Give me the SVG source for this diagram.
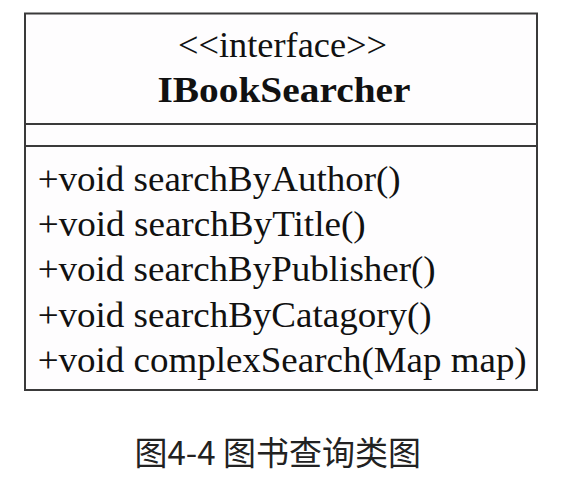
<svg xmlns="http://www.w3.org/2000/svg" width="564" height="498" viewBox="0 0 564 498">
  <style>
    .box { fill: #fefdfe; stroke: #3a3a3a; stroke-width: 2; }
    .div { stroke: #3a3a3a; stroke-width: 2; }
    .t { font-family: "Liberation Serif", "Times New Roman", serif; font-size: 35px; fill: #111; }
    .b { font-weight: bold; }
    .cap { font-family: "Noto Sans CJK SC", "Noto Sans", sans-serif; font-size: 33px; fill: #222; }
  </style>
  <rect width="564" height="498" fill="#ffffff"/>
  <g id="IBookSearcher">
    <rect class="box" x="25" y="13.5" width="512" height="376.5"/>
    <line class="div" x1="25" y1="124" x2="537" y2="124"/>
    <line class="div" x1="25" y1="146" x2="537" y2="146"/>
    <text class="t" x="178" y="57.3" textLength="209" lengthAdjust="spacingAndGlyphs">&lt;&lt;interface&gt;&gt;</text>
    <text class="t b" x="157.5" y="102.3" textLength="253" lengthAdjust="spacingAndGlyphs">IBookSearcher</text>
    <text class="t" x="37.7" y="190.7" textLength="363" lengthAdjust="spacingAndGlyphs">+void searchByAuthor()</text>
    <text class="t" x="37.7" y="236" textLength="328" lengthAdjust="spacingAndGlyphs">+void searchByTitle()</text>
    <text class="t" x="37.7" y="281.2" textLength="398" lengthAdjust="spacingAndGlyphs">+void searchByPublisher()</text>
    <text class="t" x="37.7" y="326.5" textLength="394" lengthAdjust="spacingAndGlyphs">+void searchByCatagory()</text>
    <text class="t" x="37.7" y="371.7" textLength="489" lengthAdjust="spacingAndGlyphs">+void complexSearch(Map map)</text>
  </g>
  <g id="connectors"></g>
  <g id="caption">
    <text class="cap" x="134.5" y="465">图4-4 图书查询类图</text>
  </g>
</svg>
